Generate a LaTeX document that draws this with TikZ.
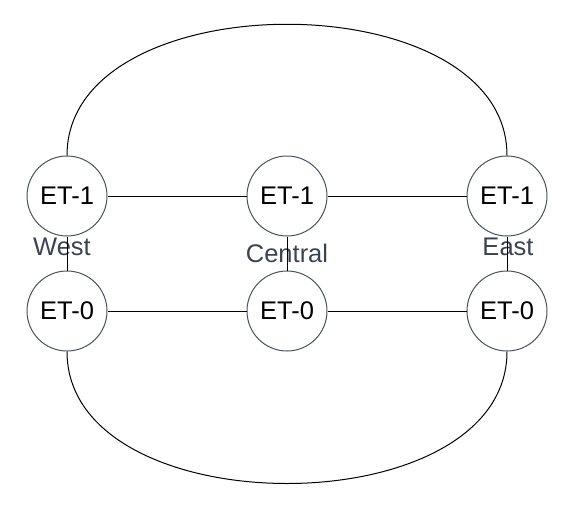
\documentclass[tikz,border=0pt]{standalone}
\usepackage{fontspec}
\setmainfont{Liberation Sans}
\usepackage{xcolor}
\definecolor{ringgray}{HTML}{4A5160}
\definecolor{labgray}{HTML}{3C4350}
\newcommand\etlab[1]{\fontsize{25.5}{28}\selectfont #1}
\newcommand\sitelab[1]{\fontsize{25.5}{28}\selectfont\textcolor{labgray}{#1}}

\begin{document}
\begin{tikzpicture}[x=1pt,y=-1pt,
		et/.style={circle, draw=ringgray, line width=1pt, minimum size=80pt, inner sep=0pt},
		link/.style={line width=1pt, black}]
					\useasboundingbox (0,0) rectangle (573,507);

					% sites
					\node[inner sep=0pt] (westlab) at (62,247) {\sitelab{West}};
					\node[inner sep=0pt] (centrallab) at (287,253) {\sitelab{Central}};
					\node[inner sep=0pt] (eastlab) at (508,247) {\sitelab{East}};

					\node[et] (w1) at (67,196) {\etlab{ET-1}};
					\node[et] (c1) at (287,196) {\etlab{ET-1}};
					\node[et] (e1) at (507,196) {\etlab{ET-1}};
					\node[et] (w0) at (67,311) {\etlab{ET-0}};
					\node[et] (c0) at (287,311) {\etlab{ET-0}};
					\node[et] (e0) at (507,311) {\etlab{ET-0}};

					\draw[link] (w1) -- (c1) -- (e1);
					\draw[link] (w0) -- (c0) -- (e0);
					\draw[link] (w1) -- (w0);
					\draw[link] (c1) -- (c0);
					\draw[link] (e1) -- (e0);

					% rings round the outside
					\draw[link] (w1.north) .. controls +(0,-175) and +(0,-175) .. (e1.north);
					\draw[link] (w0.south) .. controls +(0,176) and +(0,176) .. (e0.south);
				\end{tikzpicture}
\end{document}
